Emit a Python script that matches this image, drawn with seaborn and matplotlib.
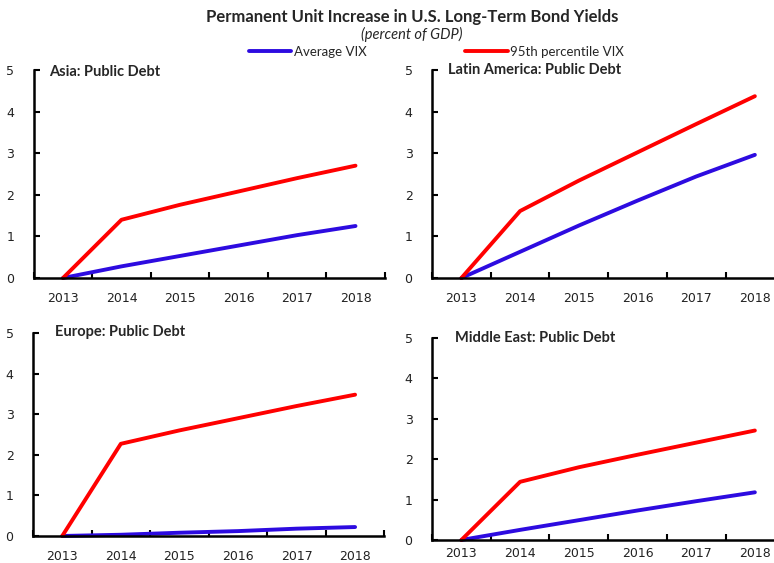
import matplotlib
matplotlib.use('Agg')
import matplotlib.pyplot as plt
import seaborn as sns
import pandas as pd

# values
years = ['2013', '2014', '2015', '2016', '2017', '2018']
series_names = ['Average VIX', '95th percentile VIX']
panel_titles = ['Asia: Public Debt', 'Latin America: Public Debt',
                'Europe: Public Debt', 'Middle East: Public Debt']

asia_avg = [0, 0.28, 0.53, 0.78, 1.03, 1.25]
asia_p95 = [0, 1.40, 1.76, 2.08, 2.40, 2.70]
latam_avg = [0, 0.63, 1.26, 1.86, 2.44, 2.96]
latam_p95 = [0, 1.61, 2.34, 3.02, 3.70, 4.37]
europe_avg = [0, 0.03, 0.08, 0.12, 0.18, 0.22]
europe_p95 = [0, 2.27, 2.60, 2.90, 3.20, 3.48]
mideast_avg = [0, 0.25, 0.49, 0.73, 0.96, 1.18]
mideast_p95 = [0, 1.44, 1.80, 2.11, 2.41, 2.71]

panels = [(asia_avg, asia_p95), (latam_avg, latam_p95),
          (europe_avg, europe_p95), (mideast_avg, mideast_p95)]

palette = {'Average VIX': '#2d0be0', '95th percentile VIX': '#ff0000'}

sns.set_style('ticks')
plt.rcParams['font.family'] = ['DejaVu Sans']

fig = plt.figure(figsize=(7.74, 5.63), dpi=100)

# axes boxes [left, bottom, width, height]
boxes = [
    [0.0436, 0.5062, 0.4535, 0.3695],
    [0.5582, 0.5062, 0.4550, 0.3695],
    [0.0426, 0.0480, 0.4540, 0.3606],
    [0.5582, 0.0409, 0.4550, 0.3587],
]
title_pos = [(0.043, 0.99), (0.045, 1.0), (0.063, 1.005), (0.065, 1.0)]
xpads = [10, 10, 10, 5]

handles = None
for i, (box, (avg, p95), ttl) in enumerate(zip(boxes, panels, panel_titles)):
    ax = fig.add_axes(box)
    df = pd.DataFrame({
        'pos': list(range(len(years))) * 2,
        'value': avg + p95,
        'series': [series_names[0]] * len(years) + [series_names[1]] * len(years),
    })
    sns.lineplot(data=df, x='pos', y='value', hue='series', palette=palette,
                 hue_order=series_names, linewidth=2.8, ax=ax,
                 legend=(i == 0))
    if i == 0:
        handles, labels = ax.get_legend_handles_labels()
        ax.get_legend().remove()

    ax.set_xlim(-0.5, 5.5)
    ax.set_ylim(0, 5)
    ax.set_xticks(range(len(years)))
    ax.set_xticklabels(years)
    ax.set_xticks([x - 0.5 for x in range(len(years) + 1)], minor=True)
    ax.set_yticks(range(6))
    ax.tick_params(axis='x', which='major', length=0, pad=xpads[i],
                   labelsize=9, colors='#222222')
    ax.tick_params(axis='x', which='minor', length=4, width=1.5,
                   direction='in', color='black')
    ax.tick_params(axis='y', length=4, width=1.5, direction='in', pad=14,
                   labelsize=9, colors='#222222', color='black')
    ax.set_xlabel('')
    ax.set_ylabel('')
    sns.despine(ax=ax)
    for s in ['left', 'bottom']:
        ax.spines[s].set_linewidth(1.8)
        ax.spines[s].set_color('black')
    for line in ax.lines:
        line.set_clip_on(False)
        line.set_solid_capstyle('round')
    ax.text(title_pos[i][0], title_pos[i][1], ttl, transform=ax.transAxes,
            fontsize=10.5, fontweight='bold', family='Lato', va='center',
            ha='left')

fig.text(0.532, 0.969, 'Permanent Unit Increase in U.S. Long-Term Bond Yields',
         ha='center', va='center', fontsize=12, fontweight='bold',
         family='Lato')
fig.text(0.532, 0.939, '(percent of GDP)', ha='center', va='center',
         fontsize=10.5, style='italic', family='Lato')

fig.legend(handles, labels, loc='center', bbox_to_anchor=(0.564, 0.908),
           ncol=2, frameon=False, handlelength=3.2, handletextpad=0.2,
           columnspacing=7.5, prop={'family': 'Lato', 'size': 9.5})

fig.savefig('out.png', dpi=100)
